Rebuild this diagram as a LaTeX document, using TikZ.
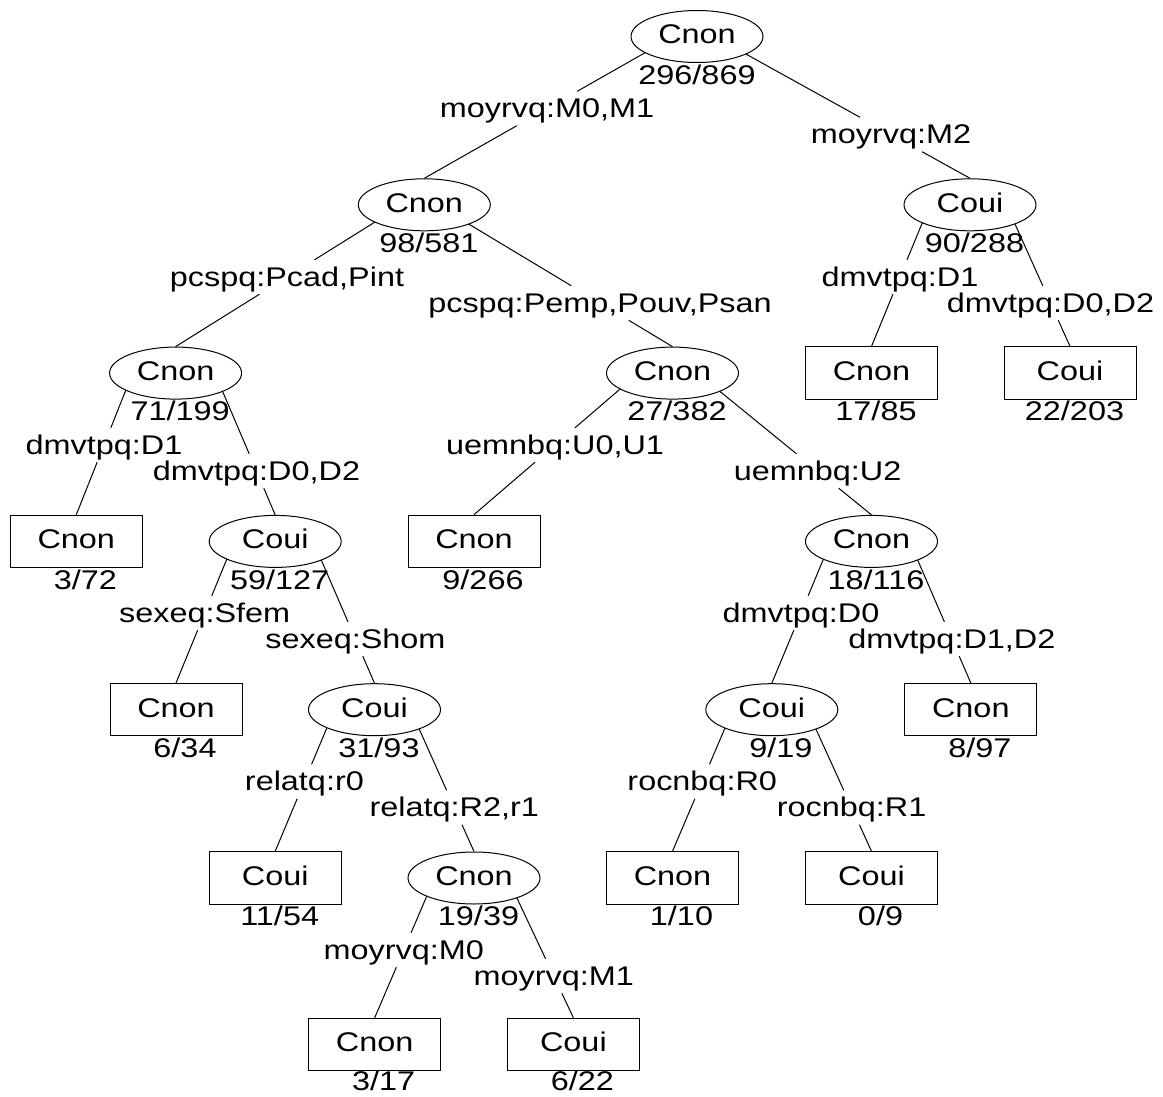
\documentclass[tikz,border=0pt]{standalone}
\usepackage{fontspec}
\setmainfont{Liberation Sans}[FakeStretch=1.2]
\usetikzlibrary{calc,backgrounds,shapes.geometric}
\tikzset{
  base/.style={font=\fontsize{27pt}{32pt}\selectfont, inner sep=0pt, text height=26.3pt, text depth=7.7pt},
  inode/.style={base, ellipse, draw, fill=white, line width=1pt, minimum width=132pt, minimum height=52pt, text height=24.3pt, text depth=9.7pt},
  leaf/.style={base, rectangle, draw, fill=white, line width=1pt, minimum width=132pt, minimum height=52.5pt, text height=24.3pt, text depth=9.7pt},
  txt/.style={base},
  counttxt/.style={base, text height=18.6pt, text depth=0pt},
  treeedge/.style={line width=1pt}
}
% tree node: [count offset], name, style, x, y, class, count
\newcommand\tnode[7][38.5]{%
  \node[#3] (#2) at (#4,#5) {#6};
  \node[counttxt] (#2c) at (#4,#5+#1) {#7};}
% edge: parent, child, label name, label text, x, y
\newcommand\tedge[6]{%
  \node[txt] (#3) at (#5,#6) {#4};
  \begin{pgfonlayer}{background}
  \draw[treeedge] let \p1=(#2.north), \p2=(#3), \p3=(#1) in
    ({\x1+(\x2-\x1)/(\y2-\y1)*(\y3-\y1)},\y3) -- (#3) -- (#2.north);
  \end{pgfonlayer}}
\begin{document}
\begin{tikzpicture}[x=1pt,y=-1pt]
\useasboundingbox (0,0) rectangle (1163,1097);
% row 0
\tnode{n0}{inode}{697}{36.5}{Cnon}{296/869}
% row 1
\tnode{n1}{inode}{424.3}{204.8}{Cnon}{~98/581}
\tnode{n2}{inode}{970}{204.8}{Coui}{~90/288}
% row 2
\tnode{n3}{inode}{175.6}{373.1}{Cnon}{~71/199}
\tnode{n4}{inode}{672.5}{373.1}{Cnon}{~27/382}
\tnode{n5}{leaf}{871.5}{373.1}{Cnon}{~17/85}
\tnode{n6}{leaf}{1070}{373.1}{Coui}{~22/203}
% row 3
\tnode{n7}{leaf}{76.3}{541.4}{Cnon}{~~3/72}
\tnode{n8}{inode}{275.2}{541.4}{Coui}{~59/127}
\tnode{n9}{leaf}{474}{541.4}{Cnon}{~~9/266}
\tnode{n10}{inode}{871.5}{541.4}{Cnon}{~18/116}
% row 4
\tnode{n11}{leaf}{176}{709.7}{Cnon}{~~6/34}
\tnode{n12}{inode}{374.5}{709.7}{Coui}{~31/93}
\tnode{n13}{inode}{771.8}{709.7}{Coui}{~~9/19}
\tnode{n14}{leaf}{970.8}{709.7}{Cnon}{~~8/97}
% row 5
\tnode{n15}{leaf}{275.2}{878}{Coui}{~11/54}
\tnode{n16}{inode}{474}{878}{Cnon}{~19/39}
\tnode{n17}{leaf}{672.5}{878}{Cnon}{~~1/10}
\tnode{n18}{leaf}{871.5}{878}{Coui}{~~0/9}
% row 6
\tnode[37]{n19}{leaf}{374.7}{1044.5}{Cnon}{~~3/17}
\tnode[37]{n20}{leaf}{573.4}{1044.5}{Coui}{~~6/22}
% edges
\tedge{n0}{n1}{e1}{moyrvq:M0,M1}{547}{108.5}
\tedge{n0}{n2}{e2}{moyrvq:M2}{891}{134.5}
\tedge{n1}{n3}{e3}{pcspq:Pcad,Pint}{287}{277}
\tedge{n1}{n4}{e4}{pcspq:Pemp,Pouv,Psan}{600}{303}
\tedge{n2}{n5}{e5}{dmvtpq:D1}{900}{277}
\tedge{n2}{n6}{e6}{dmvtpq:D0,D2}{1050.5}{303}
\tedge{n3}{n7}{e7}{dmvtpq:D1}{104}{445}
\tedge{n3}{n8}{e8}{dmvtpq:D0,D2}{256.5}{471}
\tedge{n4}{n9}{e9}{uemnbq:U0,U1}{555}{445}
\tedge{n4}{n10}{e10}{uemnbq:U2}{817.6}{471}
\tedge{n8}{n11}{e11}{sexeq:Sfem}{204.7}{613}
\tedge{n8}{n12}{e12}{sexeq:Shom}{355.4}{639}
\tedge{n10}{n13}{e13}{dmvtpq:D0}{801}{613}
\tedge{n10}{n14}{e14}{dmvtpq:D1,D2}{951.8}{639}
\tedge{n12}{n15}{e15}{relatq:r0}{304.4}{781.5}
\tedge{n12}{n16}{e16}{relatq:R2,r1}{454.3}{807.5}
\tedge{n13}{n17}{e17}{rocnbq:R0}{702.2}{781.5}
\tedge{n13}{n18}{e18}{rocnbq:R1}{851.6}{807.5}
\tedge{n16}{n19}{e19}{moyrvq:M0}{403.7}{950}
\tedge{n16}{n20}{e20}{moyrvq:M1}{553.7}{976}
\end{tikzpicture}
\end{document}
